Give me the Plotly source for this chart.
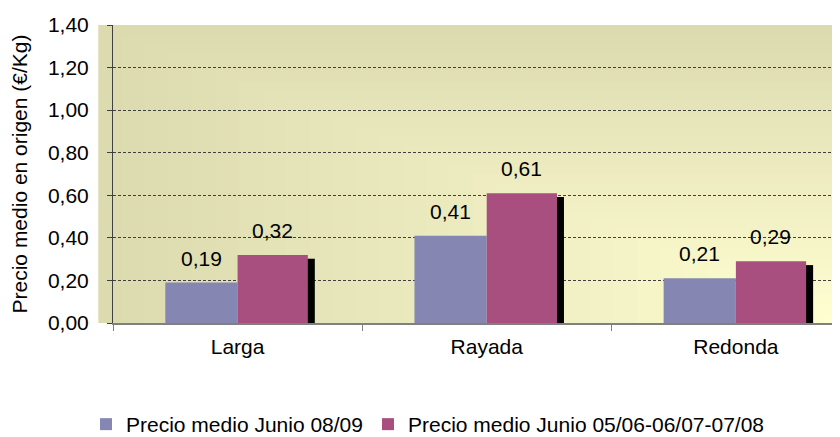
import plotly.graph_objects as go

categorias = ["Larga", "Rayada", "Redonda"]
precio_0809 = [0.19, 0.41, 0.21]
precio_media = [0.32, 0.61, 0.29]
nombres = ["Precio medio Junio 08/09", "Precio medio Junio 05/06-06/07-07/08"]
y_ticks = [0, 0.2, 0.4, 0.6, 0.8, 1.0, 1.2, 1.4]

fnt = "Arial, Liberation Sans, sans-serif"

fig = go.Figure()

# sombra negra del segundo bloque (a la derecha, algo mas baja)
fig.add_trace(go.Bar(
    x=categorias, y=[v - 0.018 for v in precio_media],
    offset=0.27, width=0.04,
    marker=dict(color="black", line=dict(width=0)),
    showlegend=False, hoverinfo="skip",
))
fig.add_trace(go.Bar(
    x=categorias, y=precio_0809, name=nombres[0],
    offset=-0.29, width=0.29,
    marker=dict(color="#8587B2", line=dict(width=0)),
))
fig.add_trace(go.Bar(
    x=categorias, y=precio_media, name=nombres[1],
    offset=0, width=0.282,
    marker=dict(color="#A84F7F", line=dict(width=0)),
))

# etiquetas de valor encima de cada barra
for serie, dx in [(precio_0809, -36), (precio_media, 35)]:
    for cat, v in zip(categorias, serie):
        fig.add_annotation(
            x=cat, y=v, xshift=dx, yshift=11, yanchor="bottom",
            text=f"{v:.2f}".replace(".", ","), showarrow=False,
            font=dict(size=21, color="black"),
        )

# fondo degradado desde la esquina inferior derecha
n = 32
oscuro, claro = (0xDC, 0xDA, 0xAF), (0xFF, 0xFF, 0xD2)
for i in range(n + 1):
    s = 1 - i / n
    c = tuple(round(claro[k] + (oscuro[k] - claro[k]) * s) for k in range(3))
    fig.add_shape(
        type="rect", xref="x domain", yref="y domain", layer="below",
        x0=1 - s * 1.02, x1=1, y0=0, y1=s,
        fillcolor="rgb(%d,%d,%d)" % c, line=dict(width=0),
    )

fig.update_layout(
    width=840, height=437,
    margin=dict(l=105, r=0, t=17, b=122),
    paper_bgcolor="white", plot_bgcolor="#DCDAAF",
    barmode="overlay",
    separators=",.",
    font=dict(family=fnt, size=21, color="black"),
    xaxis=dict(
        range=[-0.5, 2.45], showgrid=False, automargin=False,
        showline=True, linecolor="#808080", linewidth=2,
        ticks="outside", tickson="boundaries", ticklen=6, tickcolor="#808080",
        tickfont=dict(size=21), ticklabelstandoff=4,
    ),
    yaxis=dict(
        range=[0, 1.4], tickvals=y_ticks, tickformat=".2f", automargin=False,
        showgrid=True, gridcolor="#404040", gridwidth=1, griddash="3px,2px",
        showline=True, linecolor="#404040", linewidth=1,
        ticks="outside", ticklen=5, tickcolor="#404040",
        tickfont=dict(size=21), zeroline=False, ticklabelstandoff=14,
        title=dict(text="Precio medio en origen (€/Kg)", font=dict(size=21), standoff=14),
    ),
    legend=dict(
        orientation="h", xref="container", yref="container",
        x=0.5, xanchor="center", y=0, yanchor="bottom",
        font=dict(size=21), itemwidth=30, traceorder="normal",
    ),
)

fig.write_html("out.html")
